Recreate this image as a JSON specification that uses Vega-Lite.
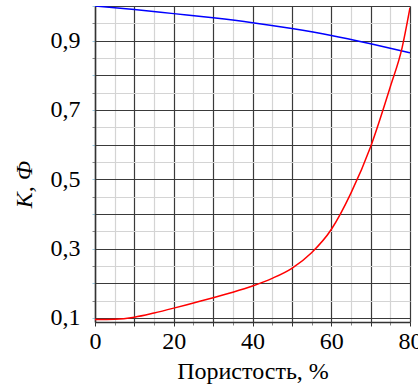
{
  "$schema": "https://vega.github.io/schema/vega-lite/v6.json",
  "width": 315,
  "height": 316,
  "autosize": "none",
  "padding": {"left": 95, "top": 6, "right": 8, "bottom": 65},
  "config": {
    "view": {"stroke": null},
    "font": "'Liberation Serif', 'DejaVu Serif', serif",
    "axis": {
      "labelFont": "'Liberation Serif', 'DejaVu Serif', serif",
      "titleFont": "'Liberation Serif', 'DejaVu Serif', serif",
      "labelFontSize": 24,
      "titleFontSize": 24,
      "labelColor": "#000",
      "titleColor": "#000",
      "titleFontWeight": "normal"
    }
  },
  "datasets": {
    "blue": [
      {"p": 0, "v": 1.0}, {"p": 10, "v": 0.99}, {"p": 20, "v": 0.978}, {"p": 30, "v": 0.966},
      {"p": 40, "v": 0.952}, {"p": 50, "v": 0.935}, {"p": 60, "v": 0.915}, {"p": 70, "v": 0.891},
      {"p": 80, "v": 0.865}
    ],
    "red": [
      {"p": 0, "v": 0.095}, {"p": 5, "v": 0.096}, {"p": 10, "v": 0.102}, {"p": 15, "v": 0.114},
      {"p": 20, "v": 0.128}, {"p": 25, "v": 0.143}, {"p": 30, "v": 0.158}, {"p": 35, "v": 0.174},
      {"p": 40, "v": 0.192}, {"p": 45, "v": 0.214}, {"p": 50, "v": 0.243}, {"p": 55, "v": 0.288},
      {"p": 60, "v": 0.355}, {"p": 65, "v": 0.46}, {"p": 70, "v": 0.594}, {"p": 75, "v": 0.767},
      {"p": 78, "v": 0.88}, {"p": 80, "v": 0.995}
    ]
  },
  "layer": [
    {
      "data": {"name": "blue"},
      "mark": {"type": "line", "color": "#0000ff", "strokeWidth": 1.5, "interpolate": "monotone", "clip": true},
      "encoding": {
        "x": {
          "field": "p", "type": "quantitative",
          "scale": {"domain": [0, 80], "nice": false},
          "axis": {"orient": "bottom", "values": [5, 15, 25, 35, 45, 55, 65, 75], "grid": true, "gridColor": "#d4d4d4", "gridWidth": 1.2, "labels": false, "ticks": true, "tickSize": 3, "tickColor": "#888", "domain": false, "title": null}
        },
        "y": {
          "field": "v", "type": "quantitative",
          "scale": {"domain": [0.088, 1.0], "nice": false, "zero": false},
          "axis": {"orient": "left", "values": [0.15, 0.25, 0.35, 0.45, 0.55, 0.65, 0.75, 0.85, 0.95], "grid": true, "gridColor": "#d4d4d4", "gridWidth": 1.2, "labels": false, "ticks": true, "tickSize": 3, "tickColor": "#888", "domain": false, "title": null}
        }
      }
    },
    {
      "data": {"name": "red"},
      "mark": {"type": "line", "color": "#ff0000", "strokeWidth": 1.5, "interpolate": "monotone", "clip": true},
      "encoding": {
        "x": {
          "field": "p", "type": "quantitative",
          "axis": {
            "orient": "bottom",
            "values": [0, 10, 20, 30, 40, 50, 60, 70, 80],
            "grid": true, "gridColor": "#3a3a3a", "gridWidth": 1.2,
            "labelExpr": "datum.value % 20 == 0 ? datum.label : ''",
            "labelFlush": false,
            "labelPadding": 3,
            "tickSize": 4, "tickColor": "#333",
            "domain": true, "domainColor": "#333", "domainWidth": 1.5,
            "title": "Пористость, %", "titlePadding": 6
          }
        },
        "y": {
          "field": "v", "type": "quantitative",
          "axis": {
            "orient": "left",
            "values": [0.1, 0.2, 0.3, 0.4, 0.5, 0.6, 0.7, 0.8, 0.9, 1.0],
            "grid": true, "gridColor": "#3a3a3a", "gridWidth": 1.2,
            "labelExpr": "indexof(['0.1','0.3','0.5','0.7','0.9'], format(datum.value,'.1f')) >= 0 ? replace(format(datum.value,'.1f'),'.',',') : ''",
            "labelPadding": 12,
            "labelFlush": false,
            "tickSize": 3, "tickColor": "#9ecae1",
            "domain": true, "domainColor": "#333", "domainWidth": 1.5,
            "title": "K, Ф", "titleFontStyle": "italic", "titlePadding": 14, "titleY": 178
          }
        }
      }
    }
  ],
  "resolve": {"axis": {"x": "independent", "y": "independent"}}
}
